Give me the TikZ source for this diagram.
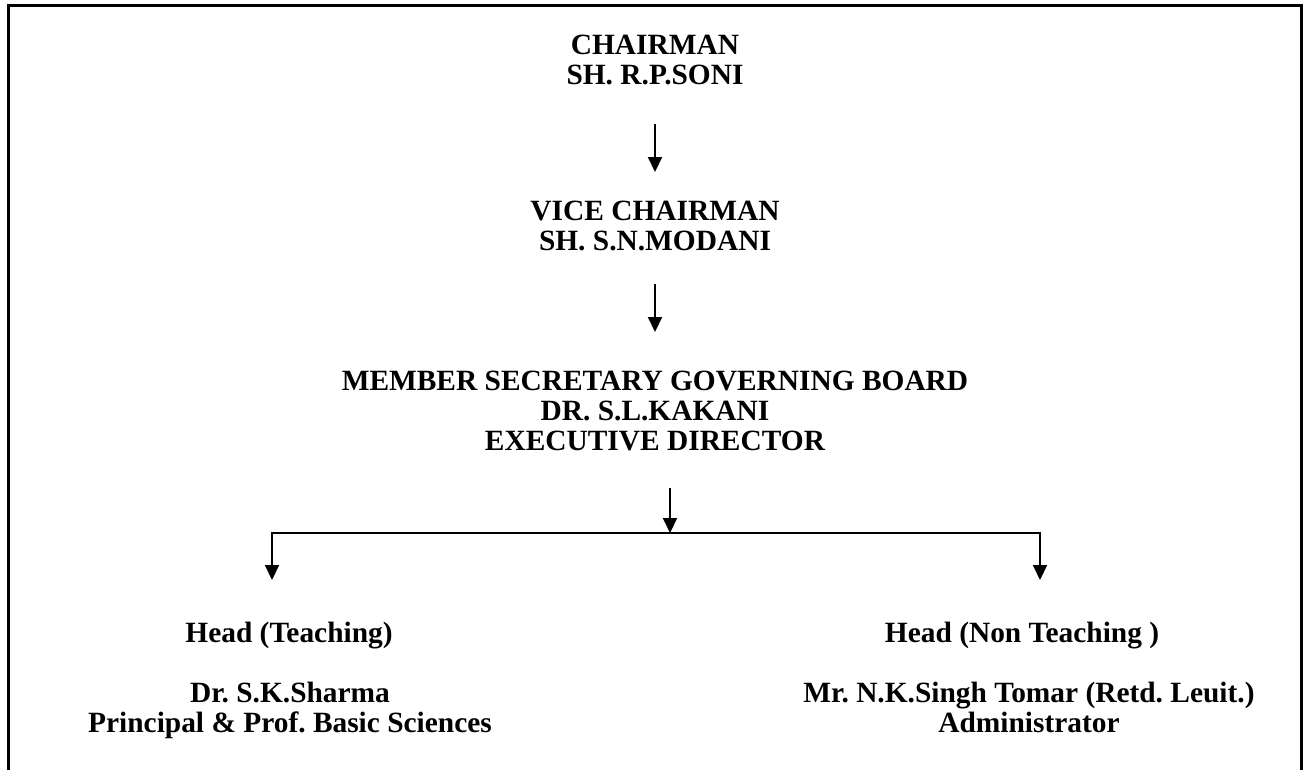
\documentclass[tikz,border=0pt]{standalone}
\usepackage{fontspec}
\setmainfont{Liberation Serif}
\usetikzlibrary{arrows.meta}
\begin{document}
\begin{tikzpicture}[x=1pt,y=-1pt,
  lbl/.style={font=\bfseries\frenchspacing\fontsize{29.4}{30}\selectfont, align=center, inner sep=0pt, text depth=0pt},
  arr/.style={line width=2pt, -{Triangle[width=14pt,length=15pt]}},
  frame/.style={line width=3pt}]
\useasboundingbox (0,0) rectangle (1308,769);
\draw[frame] (8,780) -- (8,5) -- (1301,5) -- (1301,780);
\node[lbl] (chair) at (655,60) {CHAIRMAN\\SH. R.P.SONI};
\node[lbl] (vice) at (655,226) {VICE CHAIRMAN\\SH. S.N.MODANI};
\node[lbl] (msec) at (655,411) {MEMBER SECRETARY GOVERNING BOARD\\DR. S.L.KAKANI\\EXECUTIVE DIRECTOR};
\node[lbl] (headT) at (289,632) {Head (Teaching)};
\node[lbl] (sharma) at (290,707) {Dr. S.K.Sharma\\Principal \& Prof. Basic Sciences};
\node[lbl] (headN) at (1022,632) {Head (Non Teaching )};
\node[lbl] (tomar) at (1029,707) {Mr. N.K.Singh Tomar (Retd. Leuit.)\\Administrator};
\coordinate (a1s) at (655,124);
\coordinate (a1e) at (655,172);
\coordinate (a2s) at (655,284);
\coordinate (a2e) at (655,332);
\coordinate (a3s) at (670,488);
\coordinate (bus) at (670,533);
\coordinate (tl) at (272,580);
\coordinate (tr) at (1040,580);
\draw[arr] (a1s) -- (a1e);
\draw[arr] (a2s) -- (a2e);
\draw[arr] (a3s) -- (bus);
\draw[arr] (bus) -| (tl);
\draw[arr] (bus) -| (tr);
\end{tikzpicture}
\end{document}
